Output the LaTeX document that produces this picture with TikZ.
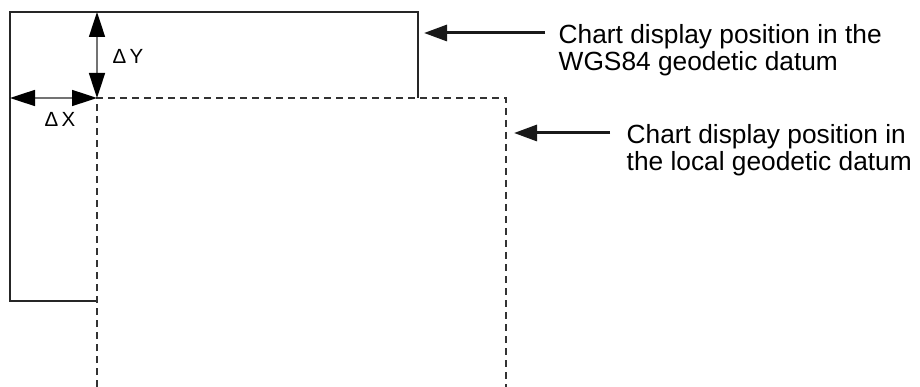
\documentclass[tikz,border=0pt]{standalone}
\usepackage{fontspec}
\setmainfont{Liberation Sans}
\usetikzlibrary{arrows.meta}
\begin{document}
\begin{tikzpicture}[x=1pt,y=-1pt,
  solidline/.style={line width=2pt,draw=black!85},
  dashline/.style={line width=2pt,draw=black!80,dash pattern=on 7pt off 5pt},
  dimarrow/.style={line width=1.6pt,draw=black!55,{Triangle[length=25pt,width=16pt,fill=black,color=black]}-{Triangle[length=25pt,width=16pt,fill=black,color=black]}},
  callout/.style={line width=3pt,draw=black!90,-{Triangle[length=23pt,width=16pt]}},
  lbl/.style={font=\fontsize{26.3}{27}\selectfont,align=left,inner sep=0pt,anchor=west},
  dimlbl/.style={font=\fontsize{20.5}{22}\selectfont,inner sep=0pt}]
\useasboundingbox (0,0) rectangle (920,387);
% corners of the WGS84 chart
\coordinate (w1) at (97,301);
\coordinate (w2) at (10,301);
\coordinate (w3) at (10,12);
\coordinate (w4) at (418,12);
\coordinate (w5) at (418,98);
% corners of the local chart
\coordinate (l1) at (97,387);
\coordinate (l2) at (97,98);
\coordinate (l3) at (506,98);
\coordinate (l4) at (506,387);
\coordinate (dytop) at (97,12);
\coordinate (dxleft) at (10,98);
\draw[solidline] (w1) -- (w2) -- (w3) -- (w4) -- (w5);
\draw[dashline] (l1) -- (l2) -- (l3) -- (l4);
\draw[dimarrow] (dytop) -- (l2);
\draw[dimarrow] (dxleft) -- (l2);
\node[dimlbl] (dy) at (128,56) {Δ\,Y};
\node[dimlbl] (dx) at (60,119) {Δ\,X};
\node[lbl] (t1) at (558.5,50) {Chart display position in the\\WGS84 geodetic datum};
\node[lbl] (t2) at (626.5,150) {Chart display position in\\the local geodetic datum};
\coordinate (a1) at (424,33);
\coordinate (a2) at (514,133);
\coordinate (s1) at (545,33);
\coordinate (s2) at (610,133);
\draw[callout] (s1) -- (a1);
\draw[callout] (s2) -- (a2);
\end{tikzpicture}
\end{document}
